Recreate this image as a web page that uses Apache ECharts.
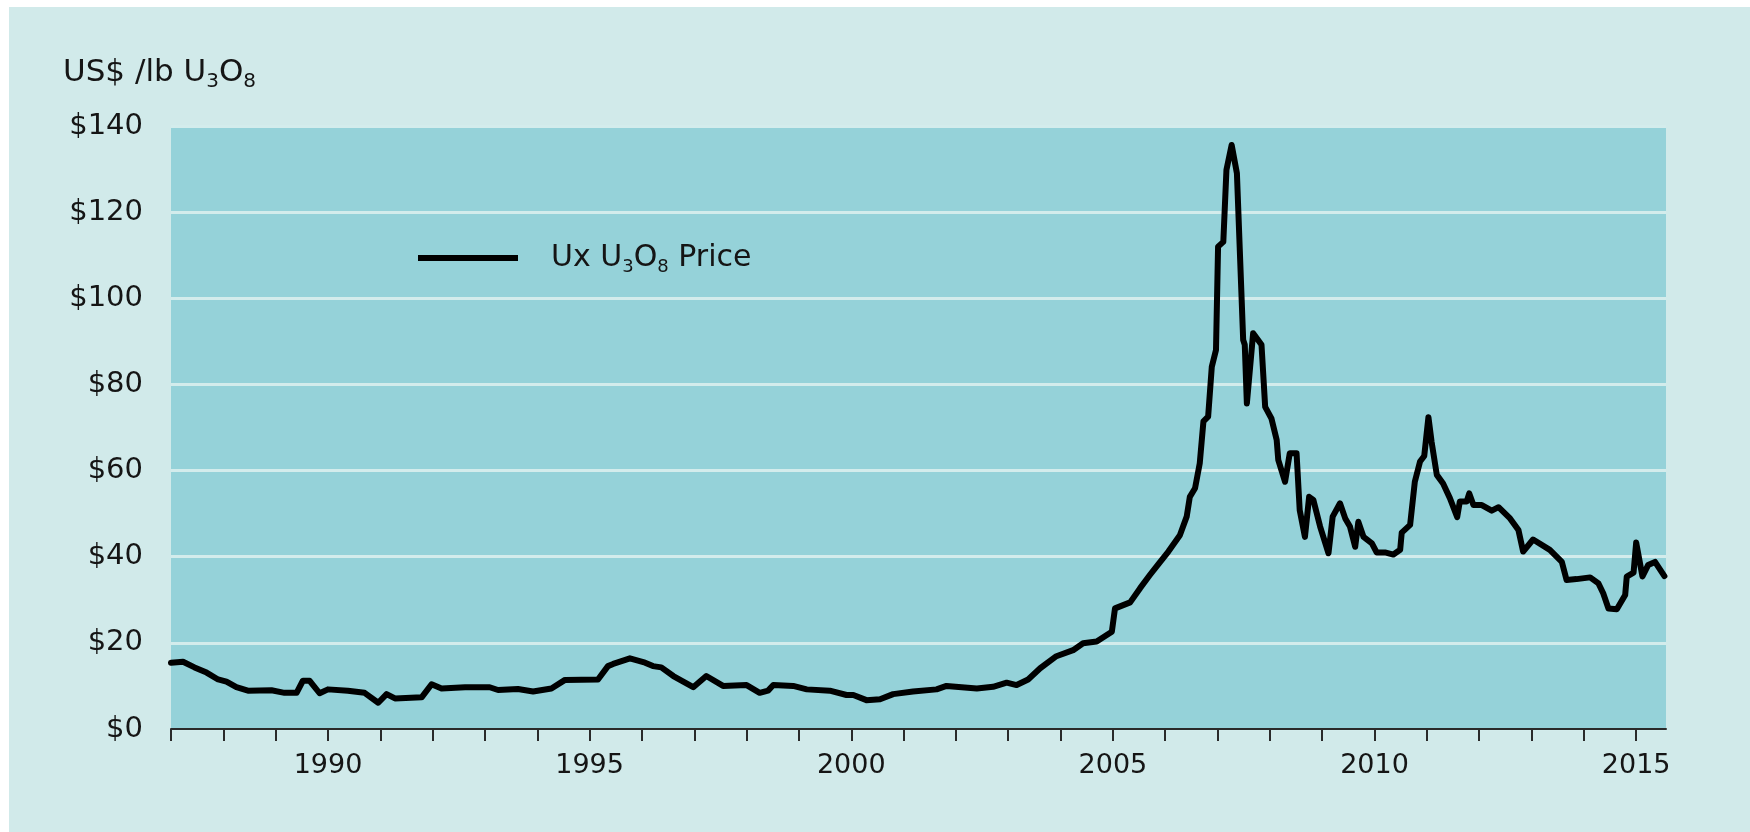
<!DOCTYPE html>
<html>
<head>
<meta charset="utf-8">
<title>Ux U3O8 Price</title>
<script src="https://cdn.jsdelivr.net/npm/echarts@6/dist/echarts.min.js"></script>
<style>
  html, body { margin: 0; padding: 0; background: #ffffff; }
  #chart { position: absolute; left: 9px; top: 7px; width: 1741px; height: 825px; }
</style>
</head>
<body>
<div id="chart"></div>
<script>
// Ux U3O8 spot price (decimal year, US$/lb)
const years = [
  1987.00, 1987.23, 1987.45, 1987.68, 1987.90, 1988.06, 1988.25, 1988.47, 1988.92, 1989.17,
  1989.40, 1989.52, 1989.65, 1989.84, 1990.00, 1990.38, 1990.70, 1990.96, 1991.12, 1991.28,
  1991.79, 1991.98, 1992.17, 1992.62, 1993.09, 1993.25, 1993.63, 1993.92, 1994.27, 1994.53,
  1995.16, 1995.35, 1995.45, 1995.77, 1996.06, 1996.21, 1996.37, 1996.60, 1996.98, 1997.23,
  1997.55, 1998.00, 1998.25, 1998.41, 1998.51, 1998.89, 1999.15, 1999.59, 1999.91, 2000.04,
  2000.29, 2000.55, 2000.80, 2001.18, 2001.63, 2001.82, 2002.40, 2002.71, 2002.97, 2003.16,
  2003.38, 2003.61, 2003.92, 2004.24, 2004.43, 2004.69, 2004.98, 2005.04, 2005.33, 2005.52,
  2005.71, 2005.87, 2006.06, 2006.28, 2006.41, 2006.47, 2006.57, 2006.66, 2006.73, 2006.82,
  2006.89, 2006.97, 2007.01, 2007.11, 2007.17, 2007.27, 2007.37, 2007.49, 2007.52, 2007.56,
  2007.68, 2007.84, 2007.91, 2008.03, 2008.13, 2008.16, 2008.29, 2008.38, 2008.51, 2008.57,
  2008.67, 2008.75, 2008.83, 2008.96, 2009.12, 2009.20, 2009.34, 2009.44, 2009.53, 2009.63,
  2009.69, 2009.79, 2009.95, 2010.04, 2010.20, 2010.36, 2010.49, 2010.52, 2010.68, 2010.77,
  2010.87, 2010.95, 2011.03, 2011.09, 2011.19, 2011.31, 2011.44, 2011.58, 2011.63, 2011.76,
  2011.81, 2011.89, 2012.05, 2012.24, 2012.37, 2012.59, 2012.75, 2012.84, 2013.03, 2013.35,
  2013.58, 2013.67, 2013.86, 2014.12, 2014.28, 2014.37, 2014.47, 2014.63, 2014.79, 2014.82,
  2014.95, 2015.00, 2015.12, 2015.23, 2015.36, 2015.54
];
const prices = [
  15.4, 15.6, 14.3, 13.1, 11.5, 11.0, 9.7, 8.9, 9.0, 8.4,
  8.4, 11.2, 11.2, 8.3, 9.2, 8.9, 8.4, 6.1, 8.1, 7.1,
  7.35, 10.4, 9.4, 9.7, 9.7, 9.05, 9.3, 8.7, 9.4, 11.4,
  11.5, 14.6, 15.1, 16.4, 15.4, 14.6, 14.3, 12.3, 9.7, 12.3,
  10.0, 10.2, 8.4, 8.9, 10.2, 10.0, 9.2, 8.9, 7.9, 7.9,
  6.7, 6.9, 8.1, 8.7, 9.2, 10.0, 9.4, 9.8, 10.75, 10.2,
  11.5, 14.1, 16.9, 18.3, 19.9, 20.3, 22.6, 28.0, 29.4, 32.7,
  35.8, 38.3, 41.2, 45.0, 49.3, 53.9, 55.9, 61.7, 71.4, 72.5,
  84.1, 88.0, 112.0, 113.1, 129.8, 135.6, 129.0, 90.3, 89.2, 75.6,
  91.9, 89.2, 74.8, 72.1, 67.1, 62.5, 57.4, 64.0, 64.0, 50.8,
  44.6, 53.9, 53.2, 47.0, 40.8, 49.3, 52.4, 48.9, 47.0, 42.3,
  48.1, 44.6, 43.1, 41.0, 41.0, 40.5, 41.6, 45.6, 47.4, 57.4,
  62.1, 63.4, 72.4, 66.7, 59.0, 57.0, 53.6, 49.2, 52.8, 52.8,
  54.7, 52.0, 52.0, 50.7, 51.5, 48.9, 46.2, 41.2, 44.0, 41.6,
  38.8, 34.6, 34.8, 35.2, 33.8, 31.5, 28.0, 27.8, 31.1, 35.4,
  36.3, 43.3, 35.4, 38.1, 38.8, 35.5
];

// axis ticks: one per year, labels every five years
const tickYears = [];
for (let y = 1987; y <= 2015; y++) tickYears.push(y);
const labelYears = [1990, 1995, 2000, 2005, 2010, 2015];
const yMin = 0;
const yMax = 140;
const yStep = 20;

const OUTER = "#d1eaea";
const PLOT = "#95d2d9";
const GRIDLINE = "#d3ecec";
const INK = "#151515";
const FONT = "DejaVu Sans";

const chart = echarts.init(document.getElementById("chart"));

chart.setOption({
  backgroundColor: OUTER,
  animation: false,
  textStyle: { fontFamily: FONT, color: INK },
  title: {
    left: 49,
    top: 41,
    text: "{a|US$ /lb U}{s|3}{a|O}{s|8}",
    textStyle: {
      fontWeight: "normal",
      rich: {
        a: { fontFamily: FONT, fontSize: 31, fontWeight: "normal", color: INK, lineHeight: 39 },
        s: { fontFamily: FONT, fontSize: 20, fontWeight: "normal", color: INK, lineHeight: 20, verticalAlign: "bottom" },
      },
    },
  },
  legend: {
    left: 404,
    top: 231,
    icon: "rect",
    itemWidth: 100,
    itemHeight: 6,
    itemStyle: { color: "#000" },
    formatter: () => "{a|Ux U}{s|3}{a|O}{s|8}{a| Price}",
    textStyle: {
      padding: [0, 0, 0, 28],
      rich: {
        a: { fontFamily: FONT, fontSize: 30, color: INK, lineHeight: 36 },
        s: { fontFamily: FONT, fontSize: 18, color: INK, lineHeight: 18, verticalAlign: "bottom" },
      },
    },
  },
  grid: {
    left: 162,
    right: 84,
    top: 119,
    bottom: 103,
    show: true,
    backgroundColor: PLOT,
    borderWidth: 0,
  },
  xAxis: {
    type: "value",
    min: 1987,
    max: 2015.57,
    interval: 1,
    splitLine: { show: false },
    axisLine: { show: true, lineStyle: { color: "#2a2a2a", width: 2 } },
    axisTick: {
      show: true,
      length: 12,
      customValues: tickYears,
      lineStyle: { color: "#2a2a2a", width: 2 },
    },
    axisLabel: {
      customValues: labelYears,
      margin: 23,
      fontFamily: FONT,
      fontSize: 27,
      color: INK,
      formatter: (v) => String(v),
    },
  },
  yAxis: {
    type: "value",
    min: yMin,
    max: yMax,
    interval: yStep,
    axisLine: { show: false },
    axisTick: { show: false },
    splitLine: { lineStyle: { color: GRIDLINE, width: 3 } },
    axisLabel: {
      margin: 28,
      fontFamily: FONT,
      fontSize: 29,
      color: INK,
      formatter: (v) => "$" + v,
    },
  },
  series: [
    {
      name: "Ux U3O8 Price",
      type: "line",
      data: years.map((y, i) => [y, prices[i]]),
      symbol: "none",
      lineStyle: { color: "#000", width: 6, join: "round", cap: "round" },
      itemStyle: { color: "#000" },
    },
  ],
});
</script>
</body>
</html>
